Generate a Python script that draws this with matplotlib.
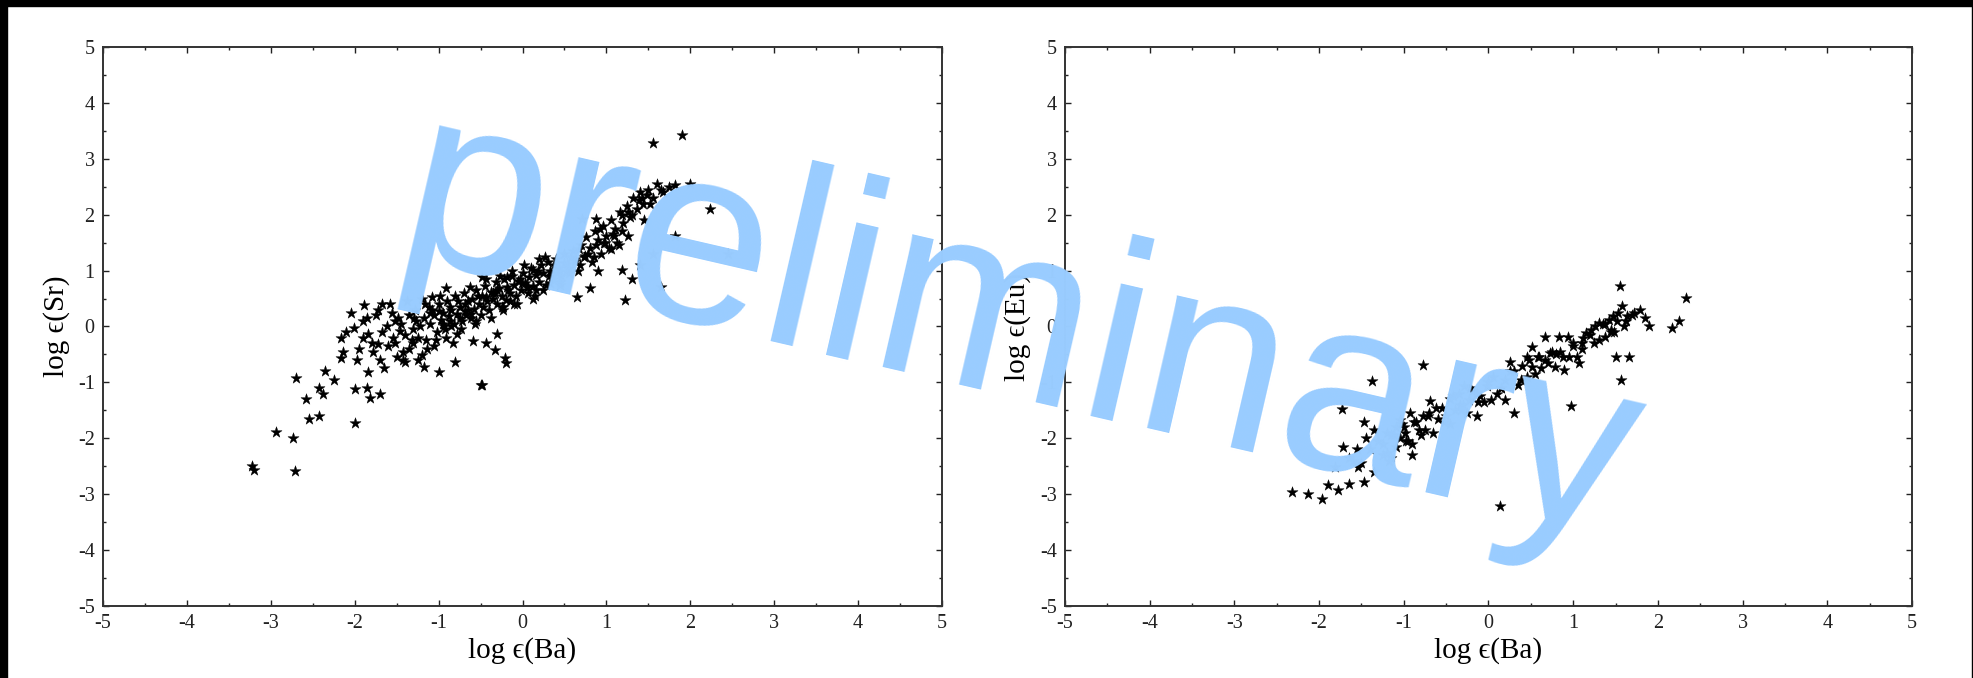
import matplotlib
matplotlib.use("Agg")
import matplotlib.pyplot as plt
from matplotlib.ticker import MultipleLocator
from matplotlib.patches import Rectangle

SERIF = ["Liberation Serif", "DejaVu Serif"]
plt.rcParams["font.family"] = SERIF
plt.rcParams["axes.unicode_minus"] = False

# ---- log eps(Ba) vs log eps(Sr) ----
sr_ba = [-3.22, -3.20, -2.94, -2.74, -2.71, -2.70, -2.55, -2.42, -2.00, -2.58,
         -2.42, -2.38, -2.35, -2.25, -1.85, -1.82, -1.70, -2.00, -2.16, -2.14,
         -2.16, -1.97, -1.84, -1.65, -1.89, -1.67, -2.01, -1.84, -1.72, -1.54,
         -1.52, -1.40, -1.20, -1.18, -1.42, -1.46, -1.25, -1.29, -1.16, -1.08,
         -0.91, -0.99, -0.86, -0.91, -0.78, -0.80, -0.99, -0.59, -0.44, -0.31,
         -0.33, -0.20, -0.48, -0.61, -0.69, -0.48, -0.44, -0.31, -0.18, -0.10,
         -0.23, -0.01, 0.12, 0.20, 0.16, 0.33, 0.41, 0.50, 0.63, 0.67,
         0.75, 0.65, 0.80, 0.71, 0.88, 0.92, 0.97, 1.05, 1.09, 1.18,
         1.26, 1.18, 1.22, 1.39, 1.26, 1.48, 1.65, 1.82, 1.82, 2.24,
         1.56, 1.90, -0.50, -0.21,
         -1.45, -1.40, -1.35, -1.30, -1.28, -1.22, -1.18, -1.15, -1.12, -1.10,
         -1.05, -1.02, -1.00, -0.97, -0.95, -0.92, -0.90, -0.88, -0.85, -0.82,
         -0.80, -0.78, -0.75, -0.72, -0.70, -0.68, -0.65, -0.62, -0.60, -0.58,
         -0.55, -0.52, -0.50, -0.48, -0.45, -0.42, -0.40, -0.38, -0.35, -0.32,
         -0.30, -0.28, -0.25, -0.22, -0.20, -0.18, -0.15, -0.12, -0.10, -0.08,
         -0.05, -0.02, 0.00, 0.03, 0.06, 0.08, 0.10, 0.13, 0.16, 0.20,
         0.22, 0.25, 0.28, 0.30, 0.33, 0.36, 0.40, 0.43, 0.46, 0.50,
         0.53, 0.56, 0.60, 0.63, 0.66, 0.70, 0.73, 0.76, 0.80, 0.83,
         0.86, 0.90, 0.93, 0.96, 1.00, 1.03, 1.06, 1.10, 1.13, 1.16,
         1.20, 1.24, 1.28, 1.32, 1.36, 1.40, 1.44, 1.50, 1.55, 1.60,
         1.68, 1.75, -1.60, -1.55, -1.50, -1.62, -1.75, -1.80, -1.90, -1.95,
         -2.05, -2.10, -1.70, -1.35, -1.25, 0.90, 1.30, 1.40, 1.55, 2.00,
         2.45, -1.10, -0.95, -0.75, -0.65, -0.35, -0.15, 0.05, 0.35, 0.55,
         -1.30, -1.05, -0.85, -0.55, -0.25, 0.15, 0.45, 0.85, 1.15, 1.45,
         -1.90, -1.85, -1.78, -1.72, -1.68, -1.58, -1.52, -1.48, -1.42, -1.38,
         -1.32, -1.27, -1.20, -1.14, -1.08, -1.03, -0.98, -0.93, -0.87, -0.83,
         -0.77, -0.73, -0.67, -0.63, -0.57, -0.53, -0.47, -0.43, -0.37, -0.33,
         -0.27, -0.23, -0.17, -0.13, -0.07, -0.03, 0.02, 0.07, 0.12, 0.18,
         0.24, 0.27, 0.32, 0.38, 0.45, 0.52, 0.58, 0.68, 0.78, 0.88,
         0.98, 1.08, 1.18, 1.30, 1.42, 1.52, 1.65]
sr_val = [-2.50, -2.56, -1.88, -1.99, -2.58, -0.92, -1.65, -1.60, -1.72, -1.30,
          -1.10, -1.20, -0.80, -0.95, -1.10, -1.28, -1.20, -1.12, -0.20, -0.45,
          -0.57, -0.60, -0.81, -0.75, 0.38, 0.41, -0.02, -0.14, -0.32, -0.20,
          0.10, -0.63, -0.51, -0.72, -0.45, -0.08, -0.20, 0.16, 0.41, 0.53,
          0.68, 0.28, 0.10, -0.20, -0.14, -0.63, -0.82, -0.26, -0.29, -0.14,
          -0.42, -0.66, -1.05, 0.22, 0.41, 0.89, 0.53, 0.65, 0.89, 0.41,
          0.35, 0.77, 1.01, 1.20, 0.65, 0.77, 0.95, 1.14, 1.20, 1.38,
          1.26, 0.53, 0.68, 1.93, 1.93, 1.75, 1.50, 1.38, 1.62, 1.99,
          2.05, 1.01, 0.47, 2.26, 1.62, 2.35, 0.71, 2.54, 1.62, 2.11,
          3.28, 3.43, -1.04, -0.56,
          0.05, -0.15, 0.20, -0.05, 0.30, 0.00, 0.15, -0.25, 0.35, 0.05,
          0.20, -0.10, 0.40, 0.12, 0.25, -0.05, 0.45, 0.18, 0.30, 0.05,
          0.55, 0.22, 0.35, 0.10, 0.60, 0.28, 0.45, 0.15, 0.50, 0.32,
          0.65, 0.40, 0.20, 0.55, 0.72, 0.45, 0.30, 0.62, 0.50, 0.80,
          0.40, 0.68, 0.55, 0.85, 0.48, 0.70, 0.60, 0.90, 0.75, 0.55,
          0.82, 0.65, 0.95, 0.78, 0.60, 0.88, 1.05, 0.72, 0.92, 0.80,
          1.10, 0.95, 0.75, 1.15, 1.00, 0.85, 1.20, 1.05, 0.90, 1.30,
          1.12, 0.95, 1.35, 1.18, 1.00, 1.45, 1.25, 1.60, 1.40, 1.15,
          1.70, 1.55, 1.30, 1.80, 1.62, 1.40, 1.90, 1.75, 1.50, 2.05,
          1.85, 2.15, 1.95, 2.30, 2.10, 2.40, 2.20, 2.45, 2.30, 2.55,
          2.40, 2.50, -0.35, 0.25, -0.55, 0.00, 0.20, -0.30, 0.10, -0.40,
          0.25, -0.10, -0.60, -0.40, -0.60, 1.00, 0.85, 1.10, 1.30, 2.55,
          1.30, 0.25, 0.05, 0.15, 0.30, 0.60, 0.45, 0.70, 0.90, 1.05,
          -0.30, -0.35, 0.00, 0.10, 0.35, 0.55, 0.80, 1.25, 1.45, 1.90,
          -0.20, 0.15, -0.45, 0.30, -0.10, 0.40, -0.30, 0.15, -0.60, 0.45,
          -0.25, 0.10, 0.50, -0.40, 0.30, -0.25, 0.55, 0.00, 0.35, -0.30,
          0.45, -0.05, 0.20, 0.70, 0.05, 0.55, 0.35, 0.85, 0.15, 0.60,
          0.90, 0.30, 0.65, 1.00, 0.40, 0.85, 1.10, 0.70, 0.50, 1.00,
          0.65, 1.25, 0.90, 1.10, 0.75, 1.00, 1.25, 1.10, 1.30, 1.45,
          1.50, 1.65, 1.70, 2.00, 2.30, 2.20, 2.45]

# ---- log eps(Ba) vs log eps(Eu) ----
eu_ba = [-2.32, -2.13, -1.97, -1.89, -1.78, -1.65, -1.47, -1.81, -1.54, -1.72,
         -1.73, -1.47, -1.38, -0.77, -1.20, -1.09, -0.90, -0.98, -0.82, -0.93,
         -0.77, -0.69, -1.09, -1.20, -1.04, -0.34, -0.23, -0.13, -0.29, -0.13,
         -0.02, 0.03, 0.19, 0.30, 0.14, 0.25, 0.46, 0.51, 0.67, 0.78,
         0.89, 0.97, 0.51, 0.73, 0.59, 0.67, 0.83, 0.94, 1.05, 1.07,
         1.10, 1.21, 1.31, 1.42, 1.47, 1.53, 1.55, 1.58, 1.45, 1.50,
         1.66, 1.57, 1.79, 1.90, 2.17, 2.25, 2.33, 1.63, 1.37, 1.26,
         1.15,
         -1.60, -1.40, -1.30, -1.25, -1.15, -1.05, -1.00, -0.95, -0.85, -0.75,
         -0.70, -0.60, -0.55, -0.50, -0.45, -0.40, -0.35, -0.30, -0.20, -0.10,
         0.00, 0.10, 0.20, 0.30, 0.35, 0.40, 0.55, 0.60, 0.70, 0.85,
         0.95, 1.00, 1.10, 1.20, 1.30, 1.35, 1.45, 1.52, 1.60, 1.70,
         -1.35, -1.15, -0.90, -0.65, -0.45, -0.25, -0.05, 0.15, 0.45, 0.80,
         -1.55, -1.45, -1.35, -1.25, -1.12, -1.02, -0.97, -0.88, -0.80, -0.72,
         -0.62, -0.52, -0.42, -0.32, -0.22, -0.12, 0.05, 0.15, 0.25, 0.38,
         0.48, 0.62, 0.75, 0.88, 1.00, 1.12, 1.25, 1.38, 1.48, 1.62,
         1.72, 1.85, -1.65, -1.50, -1.18]
eu_val = [-2.96, -3.00, -3.09, -2.84, -2.93, -2.81, -2.79, -2.51, -2.51, -2.15,
          -1.48, -1.70, -0.97, -0.69, -2.27, -2.15, -2.30, -1.91, -1.85, -1.55,
          -1.61, -1.34, -1.79, -1.91, -1.67, -1.40, -1.31, -1.61, -1.07, -1.19,
          -1.07, -1.31, -1.31, -1.55, -3.22, -0.63, -0.54, -0.72, -0.60, -0.72,
          -0.78, -1.43, -0.36, -0.48, -0.54, -0.18, -0.18, -0.18, -0.54, -0.66,
          -0.30, -0.06, 0.06, 0.12, 0.18, 0.24, 0.72, 0.36, -0.06, -0.54,
          -0.54, -0.96, 0.30, 0.00, -0.03, 0.09, 0.51, 0.18, -0.18, 0.00,
          -0.12,
          -2.40, -2.20, -2.05, -2.30, -1.95, -2.00, -1.80, -2.05, -1.70, -1.85,
          -1.55, -1.65, -1.45, -1.60, -1.30, -1.50, -1.20, -1.40, -1.15, -1.25,
          -1.00, -1.20, -0.95, -0.80, -1.05, -0.70, -0.85, -0.55, -0.65, -0.45,
          -0.55, -0.30, -0.40, -0.15, -0.25, 0.05, -0.10, 0.10, 0.00, 0.20,
          -2.60, -2.35, -2.10, -1.90, -1.75, -1.55, -1.35, -1.10, -0.90, -0.50,
          -2.20, -2.00, -1.85, -2.10, -1.95, -1.75, -2.05, -1.70, -1.95, -1.60,
          -1.45, -1.70, -1.25, -1.50, -1.10, -1.35, -0.90, -1.10, -0.80, -0.95,
          -0.60, -0.75, -0.45, -0.55, -0.35, -0.20, -0.30, 0.05, -0.10, 0.10,
          0.25, 0.15, -2.35, -2.45, -2.40]

fig = plt.figure(figsize=(19.74, 6.78), dpi=100)
ax1 = fig.add_axes([0.0522, 0.1062, 0.4250, 0.8245])
ax2 = fig.add_axes([0.5395, 0.1062, 0.4291, 0.8245])

panels = [(ax1, sr_ba, sr_val, "log \u03f5(Sr)"),
          (ax2, eu_ba, eu_val, "log \u03f5(Eu)")]

for ax, xs, ys, ylab in panels:
    ax.scatter(xs, ys, marker="*", s=70, c="black", edgecolors="black",
               linewidths=0.3, zorder=3)
    ax.set_xlim(-5, 5)
    ax.set_ylim(-5, 5)
    ax.xaxis.set_major_locator(MultipleLocator(1))
    ax.xaxis.set_minor_locator(MultipleLocator(0.5))
    ax.yaxis.set_major_locator(MultipleLocator(1))
    ax.yaxis.set_minor_locator(MultipleLocator(0.5))
    ax.tick_params(which="both", direction="in", top=True, right=True,
                   color="#222222", width=1.0)
    ax.tick_params(which="major", length=4, labelsize=14.5, pad=6,
                   labelcolor="#222222")
    ax.tick_params(which="minor", length=2.5)
    for sp in ax.spines.values():
        sp.set_linewidth(1.4)
        sp.set_color("#333333")
    ax.set_xlabel("log \u03f5(Ba)", fontsize=21, labelpad=3, family=SERIF)
    ax.set_ylabel(ylab, fontsize=21, labelpad=6, family=SERIF)

# dark frame along the top, left and right edges
fig.patches.append(Rectangle((0, 1 - 6 / 678), 1, 6 / 678,
                             transform=fig.transFigure, color="black", zorder=10))
fig.patches.append(Rectangle((0, 0), 7 / 1974, 1,
                             transform=fig.transFigure, color="black", zorder=10))
fig.patches.append(Rectangle((1 - 2 / 1974, 0), 2 / 1974, 1,
                             transform=fig.transFigure, color="black", zorder=10))

fig.text(0.516, 0.508, "preliminary", family=["Liberation Sans", "DejaVu Sans"],
         fontsize=185, color="#99ccff", rotation=-13, ha="center", va="center",
         zorder=20)

fig.savefig("out.png", dpi=100)
